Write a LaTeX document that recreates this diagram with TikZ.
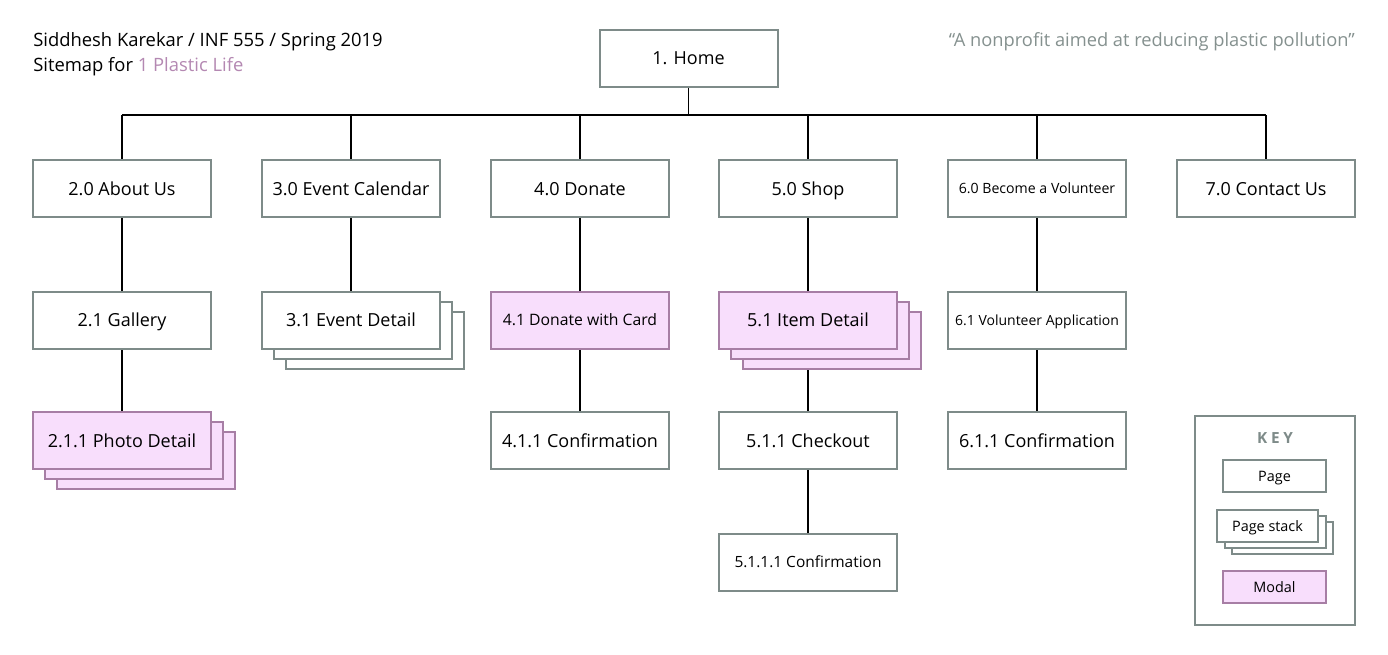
\documentclass[tikz,border=0pt]{standalone}
\usepackage{fontspec}
\setmainfont{Open Sans}
\usetikzlibrary{backgrounds}

\definecolor{pagegray}{RGB}{126,139,137}
\definecolor{modalfill}{RGB}{248,222,252}
\definecolor{modalline}{RGB}{167,126,165}
\definecolor{lifepink}{RGB}{180,136,178}
\definecolor{quotegray}{RGB}{133,145,143}

\tikzset{
  page/.style={draw=pagegray,fill=white,line width=1.5pt,minimum width=133.5pt,minimum height=42.75pt,inner sep=1pt,text depth=0pt,font=\fontsize{13.5}{16}\selectfont},
  modal/.style={page,draw=modalline,fill=modalfill},
  smallpage/.style={page,minimum width=77.25pt,minimum height=24pt,font=\fontsize{10.8}{13}\selectfont},
  smallmodal/.style={smallpage,draw=modalline,fill=modalfill},
  link/.style={line width=0.8pt,black},
}

% back copies first, then the named front box
\newcommand{\pagestack}[7]{%
  \node[#1] at (#3+2*#5,#4+2*#6) {};
  \node[#1] at (#3+#5,#4+#6) {};
  \node[#1] (#2) at (#3,#4) {#7};}

\begin{document}
\begin{tikzpicture}[x=0.75pt,y=-0.75pt]
\useasboundingbox (0,0) rectangle (1388,654);

% header
\node[anchor=base west,inner sep=0pt,font=\fontsize{13.8}{16}\selectfont] (author) at (33,46) {Siddhesh Karekar / INF 555 / Spring 2019};
\node[anchor=base west,inner sep=0pt,font=\fontsize{13.8}{16}\selectfont] (title) at (33,71) {Sitemap for \textcolor{lifepink}{1 Plastic Life}};
\node[anchor=base east,inner sep=0pt,text=quotegray,font=\fontsize{13.7}{16}\selectfont] (motto) at (1355,46) {“A nonprofit aimed at reducing plastic pollution”};

% level 1 and 2
\node[page] (home) at (688.5,58.5) {1. Home};
\node[page] (about) at (122,188.5) {2.0 About Us};
\node[page] (events) at (351,188.5) {3.0 Event Calendar};
\node[page] (donate) at (580,188.5) {4.0 Donate};
\node[page] (shop) at (808,188.5) {5.0 Shop};
\node[page,font=\fontsize{10.6}{12}\selectfont] (volunteer) at (1037,188.5) {6.0 Become a Volunteer};
\node[page] (contact) at (1266,188.5) {7.0 Contact Us};

% level 3
\node[page] (gallery) at (122,320) {2.1 Gallery};
\pagestack{page}{eventdetail}{351}{320}{12}{10}{3.1 Event Detail}
\node[modal,font=\fontsize{11.8}{13}\selectfont] (card) at (580,320) {4.1 Donate with Card};
\pagestack{modal}{item}{808}{320}{12}{10}{5.1 Item Detail}
\node[page,font=\fontsize{10.5}{12}\selectfont] (application) at (1037,320) {6.1 Volunteer Application};

% level 4 and 5
\pagestack{modal}{photo}{122}{440.5}{12}{10}{2.1.1 Photo Detail}
\node[page] (donateok) at (580,440.5) {4.1.1 Confirmation};
\node[page] (checkout) at (808,440.5) {5.1.1 Checkout};
\node[page] (volunteerok) at (1037,440.5) {6.1.1 Confirmation};
\node[page,font=\fontsize{11.6}{13}\selectfont] (shopok) at (808,562) {5.1.1.1 Confirmation};

% key
\draw[draw=pagegray,line width=1.5pt] (1195,416) rectangle (1355,625);
\node[text=pagegray,font=\fontsize{11.5}{13}\bfseries\addfontfeature{LetterSpace=25}] (key) at (1275,438) {KEY};
\node[smallpage] (keypage) at (1274.5,476) {Page};
\pagestack{smallpage,minimum width=75.75pt}{keystack}{1267.5}{526}{7.5}{6}{Page stack}
\node[smallmodal] (keymodal) at (1274.5,587) {Modal};

\begin{scope}[on background layer]
\fill[white] (0,0) rectangle (1388,654);
\coordinate (busL) at (122,115);
\coordinate (busR) at (1266,115);
\draw[link] (home.south) -- (home.south |- busL);
\draw[link] (busL) -- (busR);
\foreach \n in {about,events,donate,shop,volunteer,contact}
  \draw[link] (\n.north) -- (\n.north |- busL);
\draw[link] (about) -- (gallery);
\draw[link] (gallery) -- (photo);
\draw[link] (events) -- (eventdetail);
\draw[link] (donate) -- (card);
\draw[link] (card) -- (donateok);
\draw[link] (shop) -- (item);
\draw[link] (item) -- (checkout);
\draw[link] (checkout) -- (shopok);
\draw[link] (volunteer) -- (application);
\draw[link] (application) -- (volunteerok);
\end{scope}
\end{tikzpicture}
\end{document}
